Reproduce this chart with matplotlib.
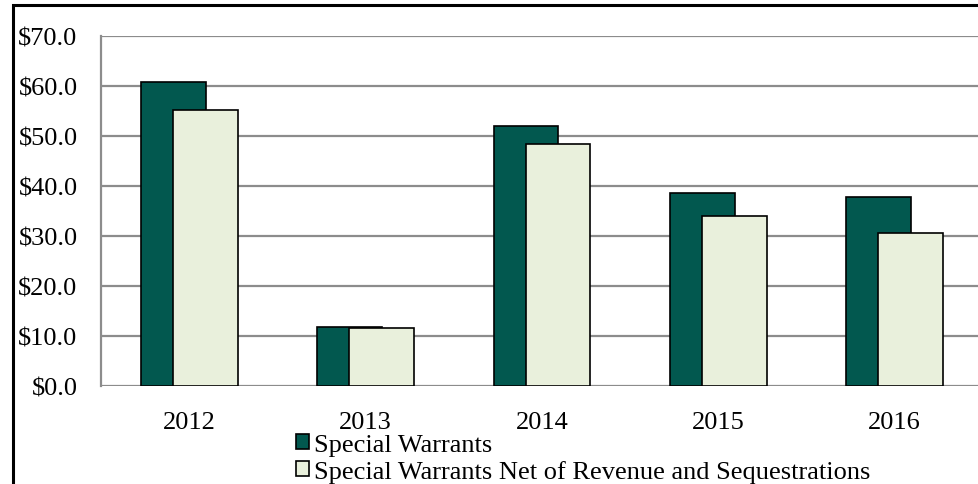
import matplotlib
matplotlib.use("Agg")
import matplotlib.pyplot as plt
from matplotlib.patches import Rectangle
import numpy as np

years = ["2012", "2013", "2014", "2015", "2016"]
special_warrants = [60.8, 11.7, 52.0, 38.5, 37.8]
net_of_revenue = [55.1, 11.5, 48.4, 33.9, 30.6]
series_names = [
    "Special Warrants",
    "Special Warrants Net of Revenue and Sequestrations",
]
yticks = [0, 10, 20, 30, 40, 50, 60, 70]

DARK = "#02584F"
LIGHT = "#E9F0DC"
FS = 19

plt.rcParams["font.family"] = ["Liberation Serif", "DejaVu Serif"]
plt.rcParams["font.size"] = FS

W, H = 979, 485
fig = plt.figure(figsize=(W / 100, H / 100), dpi=100, facecolor="white")

# plot area runs off the right edge of the canvas
ax = fig.add_axes([101.2 / W, 98.3 / H, 881.6 / W, 350 / H])

x = np.arange(len(years))
width = 0.367
offset = 0.091
ax.bar(x - offset, special_warrants, width, color=DARK, edgecolor="black",
       linewidth=1.2, zorder=2, label=series_names[0])
ax.bar(x + offset, net_of_revenue, width, color=LIGHT, edgecolor="black",
       linewidth=1.2, zorder=3, label=series_names[1])

ax.set_xlim(-0.5, len(years) - 0.5)
ax.set_ylim(0, 70)
ax.set_yticks(yticks)
ax.set_yticklabels([f"${v:.1f}" for v in yticks])
ax.set_xticks(x)
ax.set_xticklabels(years)
ax.tick_params(axis="both", length=0, labelsize=FS)
ax.tick_params(axis="y", pad=17)
ax.tick_params(axis="x", pad=18)

ax.yaxis.grid(True, color="#8C8C8C", linewidth=1.6, zorder=0)
ax.set_axisbelow(True)
for side in ("top", "right", "bottom"):
    ax.spines[side].set_visible(False)
ax.spines["left"].set_color("#8C8C8C")
ax.spines["left"].set_linewidth(1.6)

leg = fig.legend(
    loc="upper left",
    bbox_to_anchor=(296 / W, 1 - 435 / H),
    frameon=False,
    fontsize=FS,
    handlelength=0.48,
    handleheight=0.48,
    handletextpad=0.22,
    labelspacing=0.14,
    borderpad=0,
    borderaxespad=0,
)

# outer chart frame, cut off at the right and bottom
fig.patches.append(Rectangle((13 / W, -0.1), 1.2, 1 - 6 / H + 0.1,
                             transform=fig.transFigure, fill=False,
                             edgecolor="black", linewidth=2.2, clip_on=False))

fig.savefig("out.png", dpi=100, facecolor="white")
